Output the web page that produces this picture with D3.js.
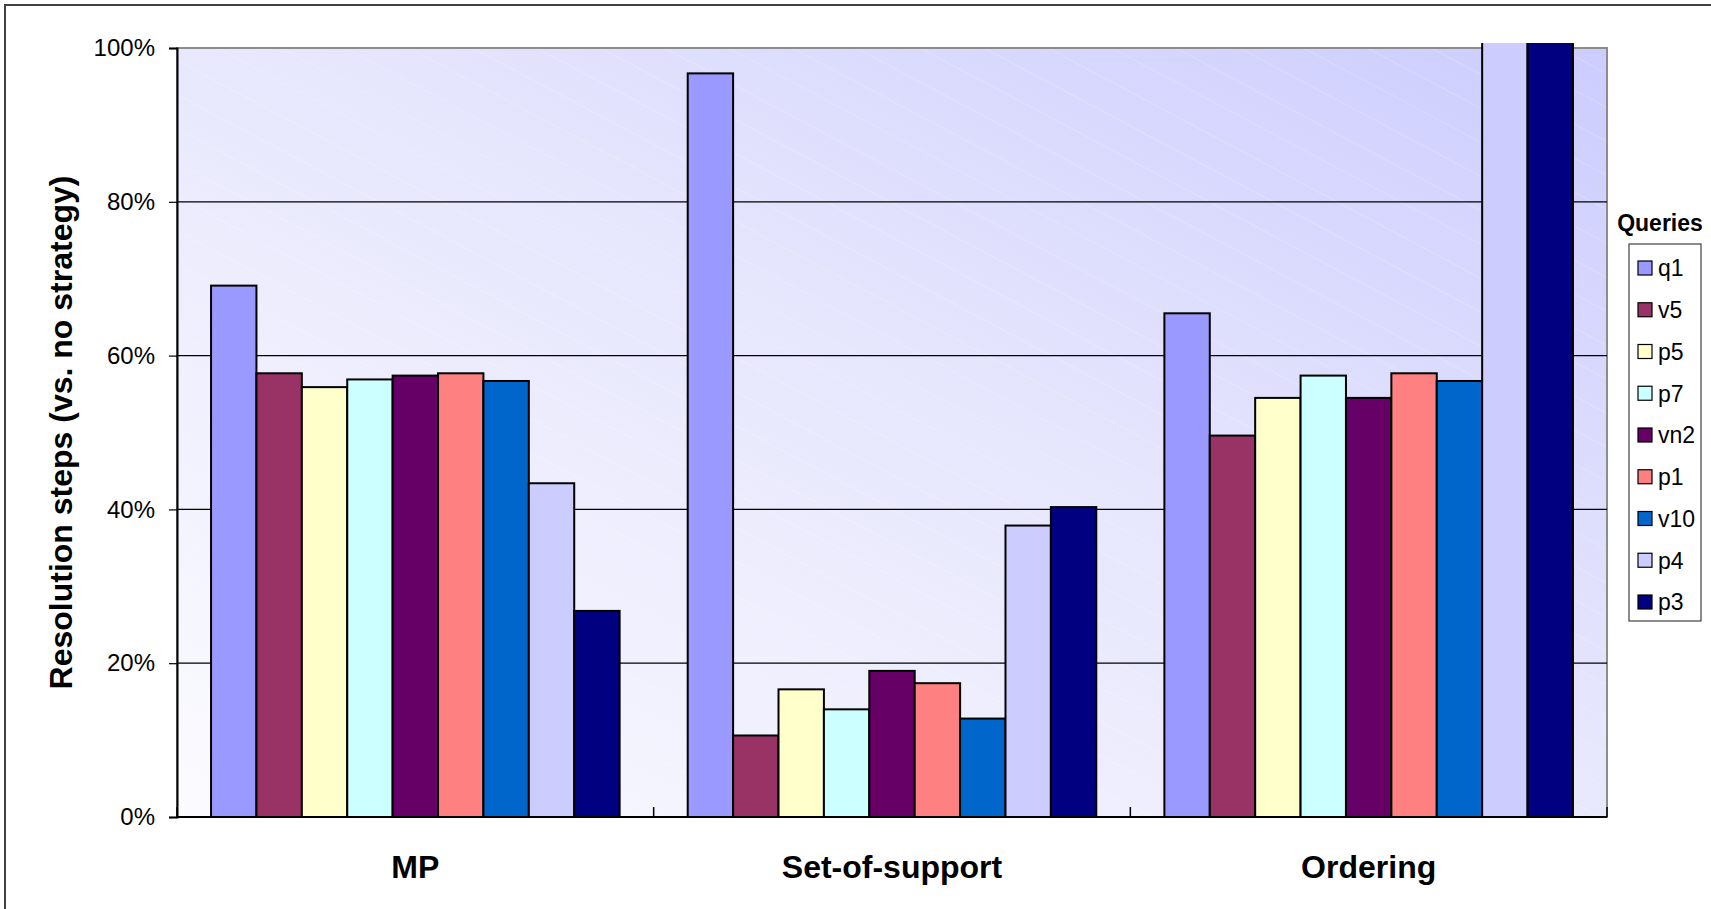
<!DOCTYPE html>
<html>
<head>
<meta charset="utf-8">
<script src="https://cdn.jsdelivr.net/npm/d3@7"></script>
<style>
  body { margin: 0; background: #fff; }
  svg { display: block; font-family: "Liberation Sans", Arial, sans-serif; }
</style>
</head>
<body>
<script>
// strategies on the x axis
const categories = ["MP", "Set-of-support", "Ordering"];
// queries (legend order)
const series = ["q1", "v5", "p5", "p7", "vn2", "p1", "v10", "p4", "p3"];
const colors = ["#9999FF", "#993366", "#FFFFCC", "#CCFFFF", "#660066", "#FF8080", "#0066CC", "#CCCCFF", "#000080"];

// resolution steps relative to no strategy, one array per strategy
const mpValues       = [0.691, 0.577, 0.559, 0.569, 0.574, 0.577, 0.567, 0.434, 0.268];
const supportValues  = [0.967, 0.106, 0.166, 0.140, 0.190, 0.174, 0.128, 0.379, 0.403];
const orderingValues = [0.655, 0.496, 0.545, 0.574, 0.545, 0.577, 0.567, 1.05, 1.05];
const yTicks = [0, 0.2, 0.4, 0.6, 0.8, 1];

const width = 1711, height = 909;
const plot = { left: 177, right: 1607, top: 48, bottom: 817 };

const table = categories.map((c, i) => ({
  category: c,
  values: [mpValues, supportValues, orderingValues][i]
}));

const svg = d3.select("body").append("svg")
  .attr("width", width)
  .attr("height", height);

const defs = svg.append("defs");

// plot background: light lavender gradient, darker to the upper right
const grad = defs.append("linearGradient")
  .attr("id", "bg")
  .attr("x1", 0).attr("y1", 1).attr("x2", 1).attr("y2", 0);
grad.append("stop").attr("offset", "0%").attr("stop-color", "#FBFBFF");
grad.append("stop").attr("offset", "55%").attr("stop-color", "#E6E6FD");
grad.append("stop").attr("offset", "100%").attr("stop-color", "#CCCCFF");

// faint diagonal stripes
const pat = defs.append("pattern")
  .attr("id", "stripes")
  .attr("patternUnits", "userSpaceOnUse")
  .attr("width", 30).attr("height", 30)
  .attr("patternTransform", "rotate(28)");
pat.append("line")
  .attr("x1", 0).attr("y1", 0).attr("x2", 30).attr("y2", 0)
  .attr("stroke", "#fff").attr("stroke-opacity", 0.35).attr("stroke-width", 1);

defs.append("clipPath").attr("id", "clip")
  .append("rect")
  .attr("x", plot.left).attr("y", plot.top - 5)
  .attr("width", plot.right - plot.left).attr("height", plot.bottom - plot.top + 5);

// outer frame
svg.append("rect")
  .attr("x", 5).attr("y", 5)
  .attr("width", width + 20).attr("height", height + 20)
  .attr("fill", "none").attr("stroke", "#404040").attr("stroke-width", 2);

const x0 = d3.scaleBand().domain(categories).range([plot.left, plot.right]);
const x1 = d3.scaleBand().domain(series).range([0, x0.bandwidth()]).paddingOuter(0.75);
const y = d3.scaleLinear().domain([0, 1]).range([plot.bottom, plot.top]);
const color = d3.scaleOrdinal().domain(series).range(colors);

// plot area
svg.append("rect")
  .attr("x", plot.left).attr("y", plot.top)
  .attr("width", plot.right - plot.left).attr("height", plot.bottom - plot.top)
  .attr("fill", "url(#bg)");
svg.append("rect")
  .attr("x", plot.left).attr("y", plot.top)
  .attr("width", plot.right - plot.left).attr("height", plot.bottom - plot.top)
  .attr("fill", "url(#stripes)")
  .attr("stroke", "#8c8c8c").attr("stroke-width", 2);

// gridlines
svg.append("g")
  .selectAll("line")
  .data(yTicks.filter(d => d > 0 && d < 1))
  .join("line")
  .attr("x1", plot.left).attr("x2", plot.right)
  .attr("y1", d => y(d)).attr("y2", d => y(d))
  .attr("stroke", "#000").attr("stroke-width", 1.2);

// bars
svg.append("g")
  .attr("clip-path", "url(#clip)")
  .selectAll("g")
  .data(table)
  .join("g")
  .attr("transform", d => `translate(${x0(d.category)},0)`)
  .selectAll("rect")
  .data(d => d.values.map((v, i) => ({ key: series[i], value: v })))
  .join("rect")
  .attr("x", d => x1(d.key))
  .attr("width", x1.bandwidth())
  .attr("y", d => y(d.value))
  .attr("height", d => y(0) - y(d.value))
  .attr("fill", d => color(d.key))
  .attr("stroke", "#000")
  .attr("stroke-width", 2);

// y axis
const yAxis = svg.append("g")
  .attr("transform", `translate(${plot.left},0)`)
  .call(d3.axisLeft(y).tickValues(yTicks).tickFormat(d3.format(".0%")).tickSize(8).tickPadding(14));
yAxis.select(".domain").attr("stroke", "#000").attr("stroke-width", 2);
yAxis.selectAll(".tick line").attr("stroke", "#000").attr("stroke-width", 1.2);
yAxis.selectAll("text").attr("font-size", 24).attr("fill", "#000");

// x axis line with category separators
svg.append("line")
  .attr("x1", plot.left).attr("x2", plot.right)
  .attr("y1", plot.bottom).attr("y2", plot.bottom)
  .attr("stroke", "#000").attr("stroke-width", 2);
svg.append("g")
  .selectAll("line")
  .data(categories.map(c => x0(c)).concat([plot.right]))
  .join("line")
  .attr("x1", d => d).attr("x2", d => d)
  .attr("y1", plot.bottom).attr("y2", plot.bottom - 10)
  .attr("stroke", "#000").attr("stroke-width", 1.5);

svg.append("g")
  .selectAll("text")
  .data(categories)
  .join("text")
  .attr("x", d => x0(d) + x0.bandwidth() / 2)
  .attr("y", 878)
  .attr("text-anchor", "middle")
  .attr("font-size", 32)
  .attr("font-weight", "bold")
  .text(d => d);

// y axis title
svg.append("text")
  .attr("transform", `translate(72,${(plot.top + plot.bottom) / 2}) rotate(-90)`)
  .attr("text-anchor", "middle")
  .attr("font-size", 32)
  .attr("font-weight", "bold")
  .text("Resolution steps (vs. no strategy)");

// legend
const legend = svg.append("g");
legend.append("text")
  .attr("x", 1660).attr("y", 231)
  .attr("text-anchor", "middle")
  .attr("font-size", 23)
  .attr("font-weight", "bold")
  .text("Queries");
legend.append("rect")
  .attr("x", 1629).attr("y", 244)
  .attr("width", 72).attr("height", 377)
  .attr("fill", "#fff").attr("stroke", "#404040").attr("stroke-width", 1.2);

const ly = d3.scalePoint().domain(series).range([268, 602]);
const item = legend.selectAll("g.item")
  .data(series)
  .join("g")
  .attr("class", "item")
  .attr("transform", d => `translate(1638,${ly(d)})`);
item.append("rect")
  .attr("x", 0).attr("y", -7)
  .attr("width", 14).attr("height", 14)
  .attr("fill", d => color(d))
  .attr("stroke", "#000").attr("stroke-width", 1.2);
item.append("text")
  .attr("x", 20).attr("y", 0)
  .attr("dy", "0.36em")
  .attr("font-size", 23)
  .text(d => d);
</script>
</body>
</html>
